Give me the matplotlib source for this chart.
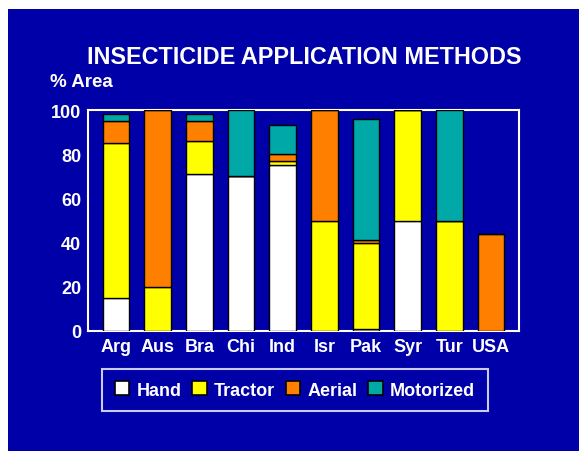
import matplotlib
matplotlib.use("Agg")
import matplotlib.pyplot as plt
from matplotlib.patches import Rectangle, Patch
import numpy as np

countries = ["Arg", "Aus", "Bra", "Chi", "Ind", "Isr", "Pak", "Syr", "Tur", "USA"]
hand      = [15, 0, 71, 70, 75, 0, 1, 50, 0, 0]
tractor   = [70, 20, 15, 0, 2, 50, 39, 50, 50, 0]
aerial    = [10, 80, 9, 0, 3, 50, 1, 0, 0, 44]
motorized = [3, 0, 3, 30, 13, 0, 55, 0, 50, 0]
series_names = ["Hand", "Tractor", "Aerial", "Motorized"]
yticks = [0, 20, 40, 60, 80, 100]

BG = "#0000A8"
colors = ["#FFFFFF", "#FFFF00", "#FF8000", "#00A8A8"]

plt.rcParams['font.family'] = ['Liberation Sans', 'DejaVu Sans']
fig = plt.figure(figsize=(5.79, 4.52), dpi=100)
fig.patch.set_facecolor("white")
fig.add_artist(Rectangle((8/579, 0), 1, (452-10)/452, transform=fig.transFigure,
                         facecolor=BG, edgecolor="none", zorder=-10))

ax = fig.add_axes([88/579, 1-332/452, (519-88)/579, (332-111)/452])
ax.set_facecolor(BG)
x = np.arange(len(countries))
bottom = np.zeros(len(countries))
for vals, c in zip([hand, tractor, aerial, motorized], colors):
    v = np.array(vals, dtype=float)
    ax.bar(x, v, bottom=bottom, width=0.64, color=c, edgecolor="black", linewidth=1.0,
           zorder=3)
    bottom += v

ax.set_xlim(-0.67, 9.67)
ax.set_ylim(0, 100)
ax.set_yticks(yticks)
ax.set_yticklabels([str(t) for t in yticks])
ax.set_xticks(x)
ax.set_xticklabels(countries)
ax.tick_params(length=0, colors="white", labelsize=13, pad=5)
for lab in ax.get_xticklabels() + ax.get_yticklabels():
    lab.set_fontweight("bold")
for s in ax.spines.values():
    s.set_color("white")
    s.set_linewidth(1.5)

fig.text(304/579, 1-58/452, "INSECTICIDE APPLICATION METHODS", color="white",
         fontsize=16.8, fontweight="bold", ha="center", va="center")
fig.text(50/579, 1-82.5/452, "% Area", color="white", fontsize=13.5,
         fontweight="bold", ha="left", va="center")

handles = [Patch(facecolor=c, edgecolor="black", linewidth=1.2) for c in colors]
leg = fig.legend(handles, series_names, ncol=4, loc="center",
                 bbox_to_anchor=(295/579, 1-391/452), frameon=True,
                 fontsize=13, handlelength=0.8, handleheight=0.8,
                 handletextpad=0.4, columnspacing=0.6, borderpad=0.7,
                 fancybox=False)
leg.get_frame().set_facecolor(BG)
leg.get_frame().set_edgecolor("white")
leg.get_frame().set_linewidth(1.5)
for t in leg.get_texts():
    t.set_color("white")
    t.set_fontweight("bold")

fig.savefig("out.png", dpi=100, facecolor=fig.get_facecolor())
